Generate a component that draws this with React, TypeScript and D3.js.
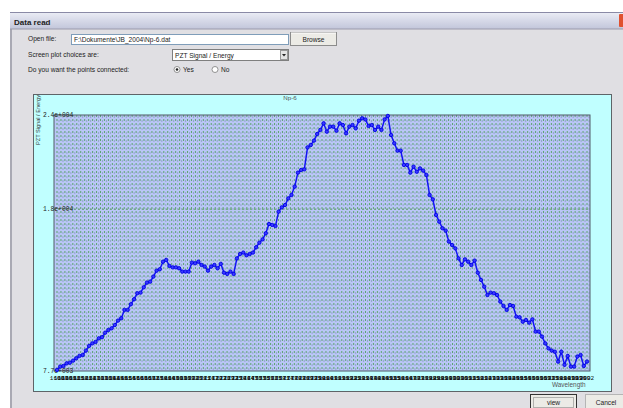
import React from 'react';
import * as d3 from 'd3';

// PZT signal / energy values, left to right
const signal: number[] = [
  7770, 7980, 8020, 8190, 8230, 8360, 8510, 8660, 8720, 9000, 9300, 9460, 9550, 9780, 9850, 10140,
  10310, 10420, 10630, 10910, 11060, 11590, 11590, 11950, 12270, 12650, 12690, 13030, 13330, 13390,
  13710, 14090, 14180, 14660, 14770, 14390, 14300, 14300, 14240, 14030, 14030, 14030, 14600, 14560,
  14660, 14450, 14350, 14090, 14350, 14450, 14240, 14520, 13960, 13880, 14030, 13880,
  14870, 15150, 15240, 15070, 15150, 15240, 15580, 15870, 16080, 16470, 17060, 17000, 16930, 17850,
  18120, 18270, 18690, 18910, 19440, 20330, 20500, 20540, 21940, 22090, 22370, 22790, 23050, 23470,
  22940, 23260, 23260, 23000, 23470, 23360, 22830, 23260, 23360, 23150, 23640, 23790, 23720, 23300,
  23360, 23050, 23260, 23050, 23720, 23940, 22730, 22200, 21730, 21730, 20820, 20820,
  20330, 20710, 20390, 20600, 20460, 20180, 18910, 18630, 17640, 17210, 16790, 16640, 15940, 15720,
  15510, 14870, 14450, 14810, 14660, 14450, 14730, 13960, 13500, 13070, 12540, 12690, 12650, 12540,
  12120, 11840, 11590, 11900, 11840, 11160, 11120, 10840, 10950, 10780, 10990, 10210, 10210, 9890,
  9460, 9140, 9000, 8930, 8300, 8930, 8090, 8660, 7980, 7980, 8620, 8720, 8020, 8300,
];

const yTickValues = [7700, 18000, 24000];
const yTickLabels = ['7.7e+003', '1.8e+004', '2.4e+004'];
const waveStart = 1600;
const waveEnd = 2002;
const waveTickStep = 3;

const chartTitle = 'Np-6';
const yAxisTitle = 'PZT Signal / Energy';
const xAxisTitle = 'Wavelength';
const windowTitle = 'Data read';
const filePath = 'F:\\Dokumente\\JB_2004\\Np-6.dat';
const plotChoice = 'PZT Signal / Energy';

const UI = '"Liberation Sans", Arial, sans-serif';
const MONO = '"Liberation Mono", "DejaVu Sans Mono", monospace';

export default function App() {
  const W = 623;
  const H = 408;
  const P = { l: 54, r: 590, t: 115, b: 371 };
  const n = signal.length;
  const waves = signal.map((_, i) => waveStart + ((waveEnd - waveStart) * i) / (n - 1));
  const x = d3.scaleLinear().domain([waveStart, waveEnd]).range([57, 587]);
  const y = d3.scaleLinear().domain([7700, 24000]).range([P.b, P.t]);
  const gridWaves = d3.range(waveStart, waveEnd + 0.001, waveTickStep);
  const line = d3
    .line<number>()
    .x((_, i) => x(waves[i]))
    .y((d) => y(d));

  return (
    <svg
      width={W}
      height={H}
      viewBox={`0 0 ${W} ${H}`}
      style={{ position: 'absolute', left: 0, top: 0, display: 'block' }}
    >
      <defs>
        <linearGradient id="tb" x1="0" y1="0" x2="0" y2="1">
          <stop offset="0" stopColor="#eceef6" />
          <stop offset="0.5" stopColor="#d6d9e8" />
          <stop offset="1" stopColor="#c2c6da" />
        </linearGradient>
        <clipPath id="plotclip">
          <rect x={P.l} y={P.t} width={P.r - P.l} height={P.b - P.t} />
        </clipPath>
      </defs>
      <rect x={0} y={0} width={W} height={H} fill="#ffffff" />
      {/* window body */}
      <rect x={10} y={12} width={W - 10} height={H - 12} fill="#e0dfe3" />
      <rect x={10} y={12} width={2} height={H - 12} fill="#a9a9b3" />
      {/* title bar */}
      <rect x={10} y={12} width={W - 10} height={17} fill="url(#tb)" />
      <line x1={10} y1={12.5} x2={W} y2={12.5} stroke="#8a8aa6" />
      <line x1={10} y1={29} x2={W} y2={29} stroke="#9a9aac" />
      <text x={14} y={24.5} fontFamily={UI} fontWeight="bold" fontSize={8} fill="#222">
        {windowTitle}
      </text>
      <rect x={619} y={14} width={6} height={13} fill="#e0502f" rx={1} />

      {/* form rows */}
      <text x={28} y={41} fontFamily={UI} fontSize={6.6} fill="#222">Open file:</text>
      <rect x={71.5} y={34.5} width={217} height={10} fill="#fff" stroke="#7f9db9" />
      <text x={74} y={42} fontFamily={UI} fontSize={6.6} fill="#222">{filePath}</text>
      <rect x={290.5} y={32.5} width={46} height={13} fill="#ecebe6" stroke="#8c8c8c" />
      <line x1={291} y1={33} x2={336} y2={33} stroke="#fff" />
      <text x={313.5} y={41.5} textAnchor="middle" fontFamily={UI} fontSize={6.6} fill="#222">Browse</text>

      <text x={28} y={57} fontFamily={UI} fontSize={6.6} fill="#222">Screen plot choices are:</text>
      <rect x={172.5} y={49.5} width={116} height={11} fill="#fff" stroke="#7f7f7f" />
      <text x={175} y={57.5} fontFamily={UI} fontSize={6.6} fill="#222">{plotChoice}</text>
      <rect x={280.5} y={50.5} width={7} height={9} fill="#e4e4e4" stroke="#999" />
      <path d="M282 54 L286 54 L284 56.5 Z" fill="#222" />

      <text x={28} y={72} fontFamily={UI} fontSize={6.6} fill="#222">Do you want the points connected:</text>
      <circle cx={177} cy={69.5} r={3} fill="#fff" stroke="#7a7a7a" strokeWidth={0.8} />
      <circle cx={177} cy={69.5} r={1.3} fill="#222" />
      <text x={183} y={72} fontFamily={UI} fontSize={6.6} fill="#222">Yes</text>
      <circle cx={215} cy={69.5} r={3} fill="#fff" stroke="#7a7a7a" strokeWidth={0.8} />
      <text x={221} y={72} fontFamily={UI} fontSize={6.6} fill="#222">No</text>

      {/* chart panel */}
      <rect x={33.5} y={94.5} width={578} height={297} fill="#c0ffff" stroke="#5e6468" />
      <text x={290} y={100} textAnchor="middle" fontFamily={UI} fontSize={6.2} fill="#555">
        {chartTitle}
      </text>
      <text
        transform={`translate(40,${145}) rotate(-90)`}
        fontFamily={UI}
        fontSize={5.6}
        fill="#333"
      >
        {yAxisTitle}
      </text>

      {/* plot area */}
      <rect x={P.l} y={P.t} width={P.r - P.l} height={P.b - P.t} fill="#b9c6f6" />
      <g clipPath="url(#plotclip)">
        {gridWaves.map((w, i) => (
          <g key={`g${i}`}>
            <line
              x1={x(w)}
              x2={x(w)}
              y1={P.t}
              y2={P.b}
              stroke="#3f9a45"
              strokeOpacity={0.75}
              strokeWidth={1}
              strokeDasharray="2,2"
            />
            <line
              x1={x(w) + 2}
              x2={x(w) + 2}
              y1={P.t + 1}
              y2={P.b}
              stroke="#94a6cc"
              strokeWidth={1}
              strokeDasharray="2,2"
            />
          </g>
        ))}
        <line
          x1={P.l}
          x2={P.r}
          y1={y(18000)}
          y2={y(18000)}
          stroke="#5ea36a"
          strokeWidth={1}
          strokeDasharray="2,2"
        />
      </g>
      <rect x={P.l} y={P.t} width={P.r - P.l} height={P.b - P.t} fill="none" stroke="#4f5a66" strokeWidth={1} />

      {/* y tick labels */}
      {yTickValues.map((v, i) => (
        <text
          key={`yt${i}`}
          x={43}
          y={y(v) + 2}
          fontFamily={MONO}
          fontSize={6.3}
          fill="#222"
        >
          {yTickLabels[i]}
        </text>
      ))}

      {/* x tick labels (one per grid line, overlapping as in the original) */}
      {gridWaves.map((w, i) => (
        <text
          key={`xt${i}`}
          x={x(w)}
          y={380}
          textAnchor="middle"
          fontFamily={MONO}
          fontSize={6}
          fill="#111"
        >
          {d3.format('d')(w)}
        </text>
      ))}
      <text x={552} y={387} fontFamily={UI} fontSize={6.4} fill="#555">{xAxisTitle}</text>

      {/* data */}
      <path d={line(signal) ?? ''} fill="none" stroke="#1414f5" strokeWidth={1.5} />
      {signal.map((v, i) => (
        <circle
          key={`p${i}`}
          cx={x(waves[i])}
          cy={y(v)}
          r={1.7}
          fill="#3a3aff"
          stroke="#0000e6"
          strokeWidth={0.9}
        />
      ))}

      {/* buttons */}
      <rect x={530.5} y={394.5} width={46} height={16} fill="#ecebe6" stroke="#333" />
      <rect x={533.5} y={397.5} width={40} height={10} fill="none" stroke="#777" strokeDasharray="1,1" />
      <text x={553.5} y={405} textAnchor="middle" fontFamily={UI} fontSize={6.6} fill="#222">view</text>
      <rect x={585.5} y={394.5} width={40} height={16} fill="#ecebe6" stroke="#b5b5b5" />
      <text x={606} y={405} textAnchor="middle" fontFamily={UI} fontSize={6.6} fill="#222">Cancel</text>
    </svg>
  );
}
